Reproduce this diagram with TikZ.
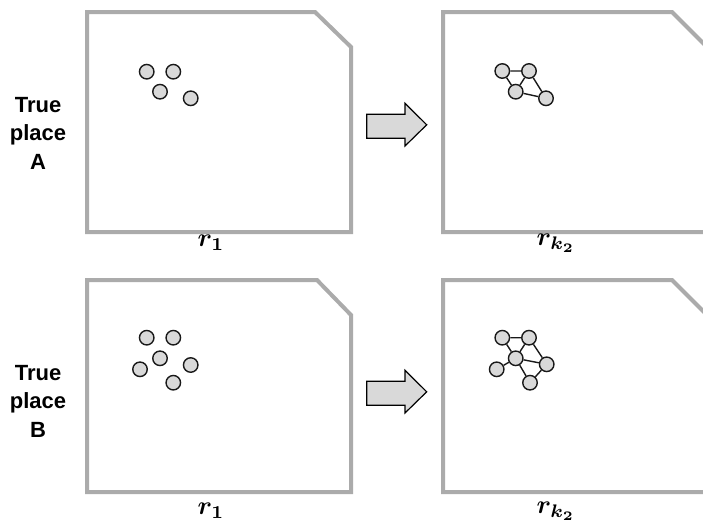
\documentclass[tikz,border=0pt]{standalone}
\usepackage{amsmath,bm}
\usepackage{fontspec}
\setmainfont{Liberation Sans}
\newcommand{\biglab}[1]{\scalebox{2.6}{$\boldsymbol{#1}$}}
\begin{document}
\begin{tikzpicture}[x=1pt,y=-1pt,
  frame/.style={draw=black!33,line width=4pt,line join=miter},
  dot/.style={circle,draw=black!90,fill=black!15,line width=1.4pt,minimum size=14.5pt,inner sep=0pt},
  edge/.style={draw=black!90,line width=1.4pt},
  bigarrow/.style={draw=black,fill=black!15,line width=1.2pt,line join=miter},
  side/.style={font=\fontsize{22}{28.5}\selectfont\bfseries,align=center},
  lab/.style={inner sep=0pt}]
\useasboundingbox (0,0) rectangle (703,525);
\begin{scope}
\clip (0,0) rectangle (703,525);
% frames
\draw[frame] (87,232) -- (87,12) -- (315,12) -- (351,47) -- (351,232) -- cycle;
\draw[frame] (443,232) -- (443,12) -- (672,12) -- (708,48) -- (708,232) -- cycle;
\draw[frame] (87,492) -- (87,280) -- (317,280) -- (351,315) -- (351,492) -- cycle;
\draw[frame] (443,492) -- (443,280) -- (672,280) -- (708,316) -- (708,492) -- cycle;
\end{scope}
% arrows
\draw[bigarrow] (366.7,114.3) -- (405,114.3) -- (405,103.3) -- (426.7,124.8) -- (405,146) -- (405,138.3) -- (366.7,138.3) -- cycle;
\draw[bigarrow] (366.7,381.3) -- (405,381.3) -- (405,370.3) -- (426.7,391.8) -- (405,413) -- (405,405.3) -- (366.7,405.3) -- cycle;
% side labels
\node[side] (ta) at (38,133) {True\\place\\A};
\node[side] (tb) at (38,401) {True\\place\\B};
% bottom labels
\node[lab] (l1) at (211,243) {\biglab{r_1}};
\node[lab] (l2) at (556,243) {\biglab{r_{k_2}}};
\node[lab] (l3) at (211,511) {\biglab{r_1}};
\node[lab] (l4) at (556,511) {\biglab{r_{k_2}}};
% top-left dots
\node[dot] (a1) at (146.7,71.7) {};
\node[dot] (a2) at (173.3,71.7) {};
\node[dot] (a3) at (160,91.7) {};
\node[dot] (a4) at (190.7,98.3) {};
% top-right graph
\node[dot] (b1) at (502.3,71) {};
\node[dot] (b2) at (529,71) {};
\node[dot] (b3) at (515.7,91.7) {};
\node[dot] (b4) at (546,98.3) {};
\draw[edge] (b1) -- (b2) (b1) -- (b3) (b2) -- (b3) (b2) -- (b4) (b3) -- (b4);
% bottom-left dots
\node[dot] (c1) at (146.7,337.7) {};
\node[dot] (c2) at (173.3,337.7) {};
\node[dot] (c3) at (160,358.3) {};
\node[dot] (c4) at (140,369.3) {};
\node[dot] (c5) at (190.7,365) {};
\node[dot] (c6) at (173.3,382.7) {};
% bottom-right graph
\node[dot] (d1) at (502.3,337.7) {};
\node[dot] (d2) at (529,337.7) {};
\node[dot] (d3) at (515.7,358.3) {};
\node[dot] (d4) at (496.7,369.3) {};
\node[dot] (d5) at (546.7,364.3) {};
\node[dot] (d6) at (530,382.7) {};
\draw[edge] (d1) -- (d2) (d1) -- (d3) (d2) -- (d3) (d2) -- (d5) (d3) -- (d4) (d3) -- (d5) (d3) -- (d6) (d5) -- (d6);
\end{tikzpicture}
\end{document}
